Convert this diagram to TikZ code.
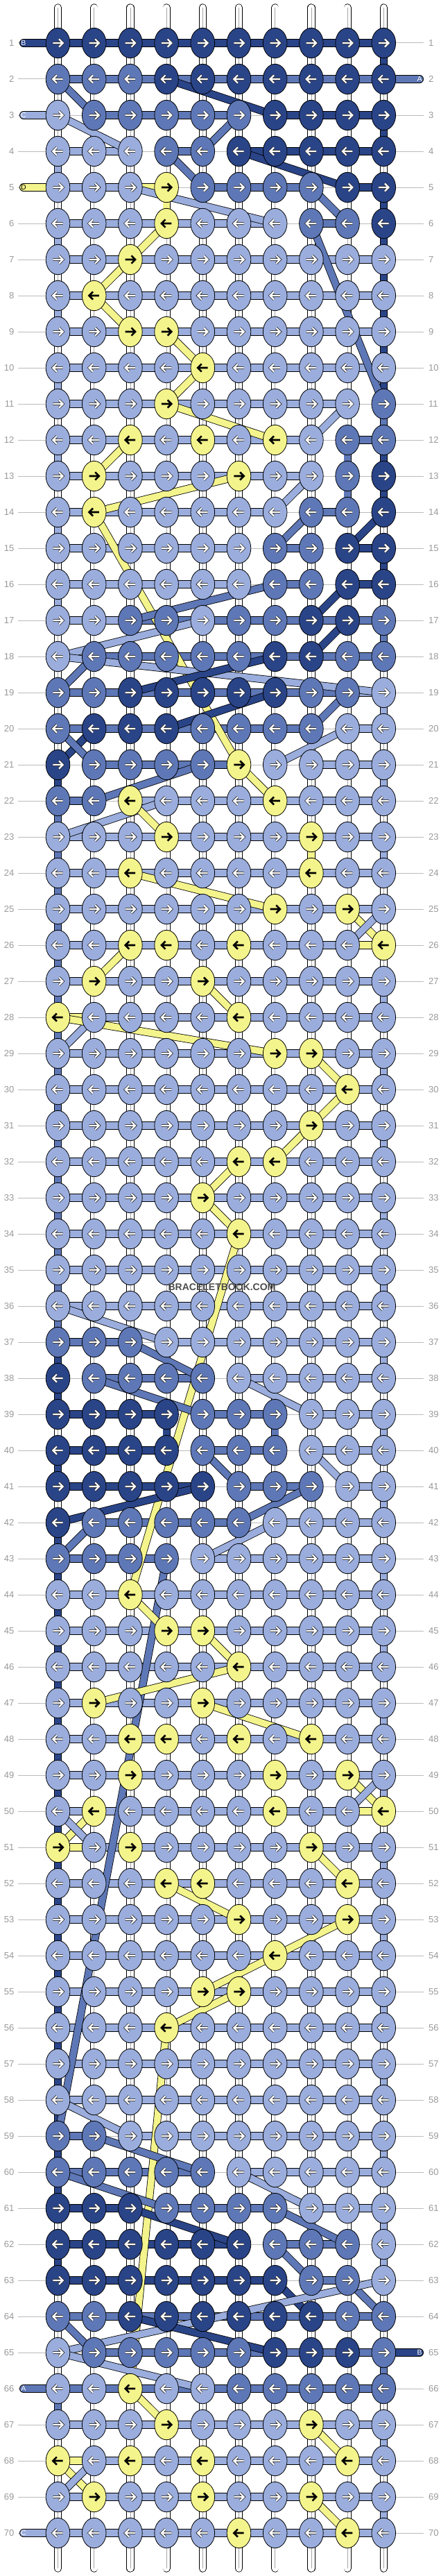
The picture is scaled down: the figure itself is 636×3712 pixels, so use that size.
\documentclass[tikz,border=0pt]{standalone}
\usepackage{fontspec}
\setmainfont{Liberation Sans}
\usetikzlibrary{shapes.geometric}
\pgfdeclarelayer{back}
\pgfdeclarelayer{mid}
\pgfsetlayers{back,mid,main}
\definecolor{cD}{HTML}{2A4488}
\definecolor{cM}{HTML}{5E77B6}
\definecolor{cL}{HTML}{9AADDD}
\definecolor{cY}{HTML}{F4F48C}
\definecolor{guidegray}{HTML}{BBBBBB}
\definecolor{labgray}{HTML}{999999}
\tikzset{
 knot/.style={ellipse, draw=black, line width=0.8pt, minimum width=34.6pt, minimum height=43.4pt, inner sep=0pt},
 arrowout/.style={draw=black!85, line width=3.8pt},
 arrowin/.style={draw=white, line width=2.2pt},
 arrowblk/.style={draw=black, line width=2.6pt},
 bar/.style={draw=black, line width=0.8pt, double distance=10.4pt},
 vseg/.style={draw=black, line width=0.8pt, double distance=9.6pt},
 diag/.style={draw=black, line width=0.8pt, double distance=9.6pt},
 wstrand/.style={draw=black, line width=0.8pt, double=white, double distance=9.6pt, line cap=round},
 wcenter/.style={draw=black!35, line width=0.5pt},
 guide/.style={draw=guidegray, line width=1pt},
 rowlab/.style={text=labgray, font=\fontsize{13}{13}\selectfont, inner sep=0pt},
 lead/.style={draw=black, line width=0.8pt, double distance=10.4pt, line cap=round},
 leadtxt/.style={font=\fontsize{10.5}{10.5}\selectfont, inner sep=0pt},
 wmark/.style={font=\bfseries\fontsize{14}{14}\selectfont, text=black!70, inner sep=0pt}
}
\def\bbgobble#1{}
\def\bbkeep#1{#1}
\newcount\bbkc
\def\rowknots#1#2{\global\bbkc=0 \bbknotloop{#1}#2\relax}
\def\bbknotloop#1#2{\ifx\relax#2\expandafter\bbgobble\else\expandafter\bbkeep\fi{\global\advance\bbkc by 1 \bbonek{#1}{#2}\bbknotloop{#1}}}
\def\bbonek#1#2{%
 \edef\bbka{\the\bbkc}%
 \pgfmathsetmacro\bbx{83.5+52.2*(\bbka-1)}%
 \pgfmathsetmacro\bby{62+52*(#1-1)}%
 \node[knot,fill=c#2] (k#1-\bbka) at (\bbx,\bby) {};
 \ifodd#1\relax\def\bbad{1}\else\def\bbad{(-1)}\fi
 \pgfmathsetmacro\bbxa{\bbx-7.2*\bbad}%
 \pgfmathsetmacro\bbxb{\bbx+7.2*\bbad}%
 \pgfmathsetmacro\bbxc{\bbx+1.6*\bbad}%
 \pgfmathsetmacro\bbya{\bby-5.6}%
 \pgfmathsetmacro\bbyb{\bby+5.6}%
 \if Y#2
   \draw[arrowblk] (\bbxa,\bby) -- (\bbxb,\bby) (\bbxc,\bbya) -- (\bbxb,\bby) -- (\bbxc,\bbyb);
 \else
   \draw[arrowout] (\bbxa,\bby) -- (\bbxb,\bby) (\bbxc,\bbya) -- (\bbxb,\bby) -- (\bbxc,\bbyb);
   \draw[arrowin] (\bbxa,\bby) -- (\bbxb,\bby) (\bbxc,\bbya) -- (\bbxb,\bby) -- (\bbxc,\bbyb);
 \fi}
\def\rowbars#1#2{\global\bbkc=0 \bbbarloop{#1}#2\relax}
\def\bbbarloop#1#2{\ifx\relax#2\expandafter\bbgobble\else\expandafter\bbkeep\fi{\global\advance\bbkc by 1 \bbonebar{#1}{#2}\bbbarloop{#1}}}
\def\bbonebar#1#2{\if-#2\else\edef\bbka{\the\bbkc}\pgfmathtruncatemacro\bbkb{\bbka+1}\draw[bar,double=c#2] (k#1-\bbka.center) -- (k#1-\bbkb.center);\fi}
\begin{document}
\begin{tikzpicture}[x=1pt,y=-1pt]
\useasboundingbox (0,0) rectangle (636,3712);
% knots
\rowknots{1}{DDDDDDDDDD}
\rowknots{2}{MMMDDDDDDD}
\rowknots{3}{LMMMMMDDDD}
\rowknots{4}{LLLMMDDDDD}
\rowknots{5}{LLLYMMMMDD}
\rowknots{6}{LLLYLLLMMD}
\rowknots{7}{LLYLLLLLLL}
\rowknots{8}{LYLLLLLLLL}
\rowknots{9}{LLYYLLLLLL}
\rowknots{10}{LLLLYLLLLL}
\rowknots{11}{LLLYLLLLLM}
\rowknots{12}{LLYLYLYLMM}
\rowknots{13}{LYLLLYLLMD}
\rowknots{14}{LYLLLLLMMD}
\rowknots{15}{LLLLLLMMDD}
\rowknots{16}{LLLLLLMMDD}
\rowknots{17}{LLMMLMMDDM}
\rowknots{18}{LMMMMMDDMM}
\rowknots{19}{MMDDDDDMML}
\rowknots{20}{MDDDMMMMLL}
\rowknots{21}{DMMMMYLLLL}
\rowknots{22}{MMYLLLYLLL}
\rowknots{23}{LLLYLLLYLL}
\rowknots{24}{LLYLLLLYLL}
\rowknots{25}{LLLLLLYLYL}
\rowknots{26}{LLYYLYLLLY}
\rowknots{27}{LYLLYLLLLL}
\rowknots{28}{YLLLLYLLLL}
\rowknots{29}{LLLLLLYYLL}
\rowknots{30}{LLLLLLLLYL}
\rowknots{31}{LLLLLLLYLL}
\rowknots{32}{LLLLLYYLLL}
\rowknots{33}{LLLLYLLLLL}
\rowknots{34}{LLLLLYLLLL}
\rowknots{35}{LLLLLLLLLL}
\rowknots{36}{LLLLLLLLLL}
\rowknots{37}{MMMLLLLLLL}
\rowknots{38}{DMMMMLLLLL}
\rowknots{39}{DDDDMMMLLL}
\rowknots{40}{DDDDMMMLLL}
\rowknots{41}{DDDDDMMMLL}
\rowknots{42}{DMMMMMLLLL}
\rowknots{43}{MMMMLLLLLL}
\rowknots{44}{LLYLLLLLLL}
\rowknots{45}{LLLYYLLLLL}
\rowknots{46}{LLLLLYLLLL}
\rowknots{47}{LYLLYLLLLL}
\rowknots{48}{LLYYLYLYLL}
\rowknots{49}{LLYLLLYLYL}
\rowknots{50}{LYLLLLYLLY}
\rowknots{51}{YLYLLLLYLL}
\rowknots{52}{LLLYYLLLYL}
\rowknots{53}{LLLLLYLLYL}
\rowknots{54}{LLLLLLYLLL}
\rowknots{55}{LLLLYYLLLL}
\rowknots{56}{LLLYLLLLLL}
\rowknots{57}{LLLLLLLLLL}
\rowknots{58}{LLLLLLLLLL}
\rowknots{59}{MMLLLLLLLL}
\rowknots{60}{MMMMMLLLLL}
\rowknots{61}{DDDMMMMLLL}
\rowknots{62}{DDDDDDMMML}
\rowknots{63}{DDDDDDDMML}
\rowknots{64}{MMDDDDDDMM}
\rowknots{65}{LMMMMMDDDM}
\rowknots{66}{LLYLLMMMMM}
\rowknots{67}{LLLYLLLYLL}
\rowknots{68}{YLYLYLLLYL}
\rowknots{69}{LYLLYLLYLL}
\rowknots{70}{LLLLLYLLYL}
% background: guides, labels, white strands
\begin{pgfonlayer}{back}
\foreach \r in {1,...,70} {
  \pgfmathsetmacro\bby{62+52*(\r-1)}
  \coordinate (gl\r) at (26,\bby);
  \coordinate (gr\r) at (611,\bby);
  \draw[guide] (gl\r) -- (gr\r);
}
\foreach \i in {1,...,10} {
  \pgfmathsetmacro\bbx{83.5+52.2*(\i-1)}
  \coordinate (top\i) at (\bbx,11);
  \coordinate (bot\i) at (\bbx,3701);
  \draw[wstrand] (top\i) -- (bot\i);
  \draw[wcenter] (top\i) -- (bot\i);
}
\end{pgfonlayer}
\foreach \r in {1,...,70} {
  \pgfmathsetmacro\bby{62+52*(\r-1)}
  \node[rowlab,anchor=east] (ll\r) at (20.5,\bby) {\r};
  \node[rowlab,anchor=west] (lr\r) at (618,\bby) {\r};
}
% strands between knots
\begin{pgfonlayer}{mid}
\rowbars{1}{DDDDDDDDD}
\rowbars{2}{MMMMMMMMM}
\rowbars{3}{-MMMM-DDD}
\rowbars{4}{LL-M-DDDD}
\rowbars{5}{LLY-MMM-D}
\rowbars{6}{LLLLLL-M-}
\rowbars{7}{LLLLLLLLL}
\rowbars{8}{LLLLLLLLL}
\rowbars{9}{LLLLLLLLL}
\rowbars{10}{LLLLLLLLL}
\rowbars{11}{LLLLLLLL-}
\rowbars{12}{LLLLLLL-M}
\rowbars{13}{LLLLLLL--}
\rowbars{14}{LLLLLL-M-}
\rowbars{15}{LLLLL-M-D}
\rowbars{16}{LLLLL-M-D}
\rowbars{17}{LLMMMMMMM}
\rowbars{18}{-MMMMMMMM}
\rowbars{19}{MMMMMMMML}
\rowbars{20}{MMMMMMM-L}
\rowbars{21}{-MMMM--LL}
\rowbars{22}{M-LLLLLLL}
\rowbars{23}{LLLLLLLLL}
\rowbars{24}{LLLLLLLLL}
\rowbars{25}{LLLLLLLLL}
\rowbars{26}{LLLLLLLLY}
\rowbars{27}{LLLLLLLLL}
\rowbars{28}{YLLLLLLLL}
\rowbars{29}{LLLLLLLLL}
\rowbars{30}{LLLLLLLLL}
\rowbars{31}{LLLLLLLLL}
\rowbars{32}{LLLLLLLLL}
\rowbars{33}{LLLLLLLLL}
\rowbars{34}{LLLLLLLLL}
\rowbars{35}{LLLLLLLLL}
\rowbars{36}{LLLLLLLLL}
\rowbars{37}{MM-LLLLLL}
\rowbars{38}{-MMM-LLLL}
\rowbars{39}{DDD-MM-LL}
\rowbars{40}{DDD-MM-LL}
\rowbars{41}{DDDD-MM-L}
\rowbars{42}{-MMMM-LLL}
\rowbars{43}{MMM-LLLLL}
\rowbars{44}{LLLLLLLLL}
\rowbars{45}{LLLLLLLLL}
\rowbars{46}{LLLLLLLLL}
\rowbars{47}{LLLLLLLLL}
\rowbars{48}{LLLLLLLLL}
\rowbars{49}{LLLLLLLLL}
\rowbars{50}{LLLLLLLLY}
\rowbars{51}{YLLLLLLLL}
\rowbars{52}{LLLLLLLLL}
\rowbars{53}{LLLLLLLLL}
\rowbars{54}{LLLLLLLLL}
\rowbars{55}{LLLLLLLLL}
\rowbars{56}{LLLLLLLLL}
\rowbars{57}{LLLLLLLLL}
\rowbars{58}{LLLLLLLLL}
\rowbars{59}{M-LLLLLLL}
\rowbars{60}{MMMM-LLLL}
\rowbars{61}{DD-MMM-LL}
\rowbars{62}{DDDDD-MM-}
\rowbars{63}{DDDDDD-M-}
\rowbars{64}{MMMMMMMMM}
\rowbars{65}{-MMMMMMMM}
\rowbars{66}{MMMMMMMMM}
\rowbars{67}{LLLLLLLLL}
\rowbars{68}{YLLLLLLLL}
\rowbars{69}{LLLLLLLLL}
\rowbars{70}{LLLLLLLLL}
% vertical coloured segments
\foreach \ra/\ca/\cl in {4/1/L,6/1/L,8/1/L,10/1/L,12/1/L,14/1/L,16/1/L,21/1/D,22/1/M,37/1/D,38/1/D,40/1/D,62/1/D,66/1/M,
 1/10/D,3/10/D,5/10/D,6/10/D,7/10/D,8/10/D,9/10/D,10/10/D,11/10/M,12/10/D,13/10/D,15/10/D,17/10/M,19/10/L,21/10/L,23/10/L,62/10/L,65/10/M,67/10/L,69/10/L,
 5/4/Y,23/8/Y,12/9/M,13/9/M,39/4/D,39/7/M} {
  \pgfmathtruncatemacro\rbb{\ra+1}
  \draw[vseg,double=c\cl] (k\ra-\ca.center) -- (k\rbb-\ca.center);
}
\foreach \ra in {23,...,36} {
  \pgfmathtruncatemacro\rbb{\ra+1}
  \draw[vseg,double=cM] (k\ra-1.center) -- (k\rbb-1.center);
}
\foreach \ra in {42,...,60} {
  \pgfmathtruncatemacro\rbb{\ra+1}
  \draw[vseg,double=cD] (k\ra-1.center) -- (k\rbb-1.center);
}
\foreach \ra in {27,29,...,61} {
  \pgfmathtruncatemacro\rbb{\ra+1}
  \draw[vseg,double=cL] (k\ra-10.center) -- (k\rbb-10.center);
}
% diagonal strands
\foreach \cl/\ra/\ca/\rbb/\cbb in {
 M/2/1/3/2, D/2/4/3/7, L/3/1/4/3, M/3/6/4/5, M/4/4/5/5, D/4/6/5/9, L/5/3/6/7, M/5/8/6/9,
 Y/6/4/7/3, Y/7/3/8/2, Y/8/2/9/3, Y/9/4/10/5, Y/10/5/11/4, M/6/8/11/10,
 Y/11/4/12/7, Y/12/3/13/2, L/11/9/12/8, Y/13/6/14/2, L/13/8/14/7, Y/14/2/21/6,
 M/14/8/15/7, D/14/10/15/9, D/16/9/17/8, M/16/7/17/3, D/17/9/18/8, L/17/5/18/1,
 M/18/2/19/1, L/18/1/19/10, D/18/7/19/3, D/19/7/20/4, M/19/9/20/8, D/20/2/21/1,
 M/20/1/21/2, L/20/9/21/7, M/21/5/22/2, Y/21/6/22/7, L/22/4/23/1, Y/22/3/23/4,
 Y/24/3/25/7, Y/25/9/26/10, L/25/10/26/9, Y/26/3/27/2, Y/27/5/28/6, L/28/2/29/1,
 Y/28/1/29/7, Y/29/8/30/9, Y/30/9/31/8, Y/31/8/32/7, Y/32/6/33/5, Y/33/5/34/6,
 Y/34/6/44/3, L/36/1/37/4, M/37/3/38/5, M/38/2/39/5, L/38/6/39/8, M/40/5/41/6,
 L/40/8/41/9, D/41/5/42/1, M/41/8/42/6, M/42/2/43/1, L/42/7/43/5, M/43/4/59/1,
 Y/44/3/45/4, Y/45/5/46/6, Y/46/6/47/2, Y/47/5/48/8, Y/49/9/50/10, L/49/10/50/9,
 Y/50/2/51/1, L/50/1/51/2, Y/51/8/52/9, Y/52/4/53/6, Y/53/9/54/7, Y/54/7/55/5,
 Y/55/6/56/4, Y/56/4/66/3, L/58/1/59/3, M/59/2/60/5, M/60/1/61/4, L/60/6/61/8,
 D/61/3/62/6, M/61/7/62/9, M/62/7/63/8, D/63/7/64/8, M/63/9/64/10, L/63/10/65/1,
 D/64/3/65/7, M/64/1/65/2, L/65/1/66/5, Y/66/3/67/4, Y/67/8/68/9, Y/68/1/69/2,
 L/68/2/69/1, Y/69/8/70/9} {
  \draw[diag,double=c\cl] (k\ra-\ca.center) -- (k\rbb-\cbb.center);
}
% leading ends
\coordinate (ldB1) at (34,62);
\coordinate (ldA2) at (605,114);
\coordinate (ldC3) at (34,166);
\coordinate (ldD5) at (34,270);
\coordinate (ldB65) at (605,3390);
\coordinate (ldA66) at (34,3442);
\coordinate (ldC70) at (34,3650);
\draw[lead,double=cD] (ldB1) -- (k1-1.center);
\draw[lead,double=cM] (ldA2) -- (k2-10.center);
\draw[lead,double=cL] (ldC3) -- (k3-1.center);
\draw[lead,double=cY] (ldD5) -- (k5-1.center);
\draw[lead,double=cD] (ldB65) -- (k65-10.center);
\draw[lead,double=cM] (ldA66) -- (k66-1.center);
\draw[lead,double=cL] (ldC70) -- (k70-1.center);
\end{pgfonlayer}
\node[leadtxt,text=white] (tB1) at (ldB1) {B};
\node[leadtxt,text=white] (tA2) at (ldA2) {A};
\node[leadtxt,text=white] (tC3) at (ldC3) {C};
\node[leadtxt,text=black] (tD5) at (ldD5) {D};
\node[leadtxt,text=white] (tB65) at (ldB65) {B};
\node[leadtxt,text=white] (tA66) at (ldA66) {A};
\node[leadtxt,text=white] (tC70) at (ldC70) {C};
\node[wmark] (wm) at (320,1855) {BRACELETBOOK.COM};
\end{tikzpicture}
\end{document}
